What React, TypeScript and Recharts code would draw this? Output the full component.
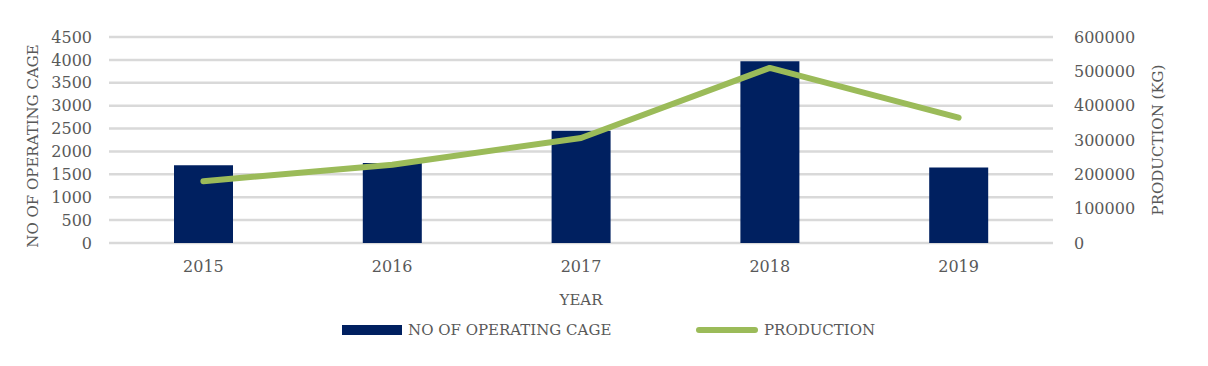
import { ComposedChart, Bar, Line, XAxis, YAxis, CartesianGrid } from "recharts";

const years = ["2015", "2016", "2017", "2018", "2019"];
const cages = [1700, 1750, 2450, 3970, 1650];
const production = [180000, 228000, 306000, 510000, 365000];
const cageTicks = [0, 500, 1000, 1500, 2000, 2500, 3000, 3500, 4000, 4500];
const productionTicks = [0, 100000, 200000, 300000, 400000, 500000, 600000];

const data = years.map((year, i) => ({
  year,
  cages: cages[i],
  production: production[i],
}));

const font = "'DejaVu Serif', serif";
const textColor = "#595959";
const tickStyle = { fill: textColor, fontSize: 16, fontFamily: font };
const titleStyle = { fill: textColor, fontSize: 15, fontFamily: font, textAnchor: "middle" };

export default function App() {
  return (
    <div
      style={{
        position: "absolute",
        left: 0,
        top: 0,
        width: 1208,
        height: 366,
        background: "#fff",
        fontFamily: font,
      }}
    >
      <ComposedChart
        width={1208}
        height={366}
        data={data}
        margin={{ top: 37, right: 0, bottom: 61, left: 0 }}
      >
        <CartesianGrid
          yAxisId="left"
          vertical={false}
          stroke="#d9d9d9"
          strokeWidth={2.5}
        />
        <XAxis
          dataKey="year"
          height={62}
          axisLine={false}
          tickLine={false}
          tickSize={0}
          tickMargin={18}
          tick={tickStyle}
          label={{
            value: "YEAR",
            position: "insideBottom",
            offset: 0,
            style: titleStyle,
          }}
        />
        <YAxis
          yAxisId="left"
          width={109}
          domain={[0, 4500]}
          ticks={cageTicks}
          interval={0}
          axisLine={false}
          tickLine={false}
          tickSize={0}
          tickMargin={17}
          tick={tickStyle}
          label={{
            value: "NO OF OPERATING CAGE",
            angle: -90,
            position: "insideLeft",
            offset: 33,
            textAnchor: "middle",
            dy: 6,
            style: titleStyle,
          }}
        />
        <YAxis
          yAxisId="right"
          orientation="right"
          width={155}
          domain={[0, 600000]}
          ticks={productionTicks}
          interval={0}
          axisLine={false}
          tickLine={false}
          tickSize={0}
          tickMargin={21}
          tick={{ ...tickStyle, textAnchor: "start" }}
          label={{
            value: "PRODUCTION (KG)",
            angle: -90,
            position: "insideRight",
            offset: 50,
            textAnchor: "middle",
            style: titleStyle,
          }}
        />
        <Bar
          yAxisId="left"
          dataKey="cages"
          fill="#002060"
          barSize={59}
          isAnimationActive={false}
        />
        <Line
          yAxisId="right"
          dataKey="production"
          type="linear"
          stroke="#9bbb59"
          strokeWidth={6}
          strokeLinecap="round"
          strokeLinejoin="round"
          dot={false}
          activeDot={false}
          isAnimationActive={false}
        />
      </ComposedChart>

      {/* legend */}
      <div
        style={{
          position: "absolute",
          left: 342,
          top: 325,
          width: 60,
          height: 10,
          background: "#002060",
        }}
      />
      <div
        style={{
          position: "absolute",
          left: 408,
          top: 320,
          fontSize: 15,
          lineHeight: "20px",
          color: textColor,
          whiteSpace: "nowrap",
        }}
      >
        NO OF OPERATING CAGE
      </div>
      <div
        style={{
          position: "absolute",
          left: 696,
          top: 327,
          width: 62,
          height: 6,
          borderRadius: 3,
          background: "#9bbb59",
        }}
      />
      <div
        style={{
          position: "absolute",
          left: 764,
          top: 320,
          fontSize: 15,
          lineHeight: "20px",
          color: textColor,
          whiteSpace: "nowrap",
        }}
      >
        PRODUCTION
      </div>
    </div>
  );
}
